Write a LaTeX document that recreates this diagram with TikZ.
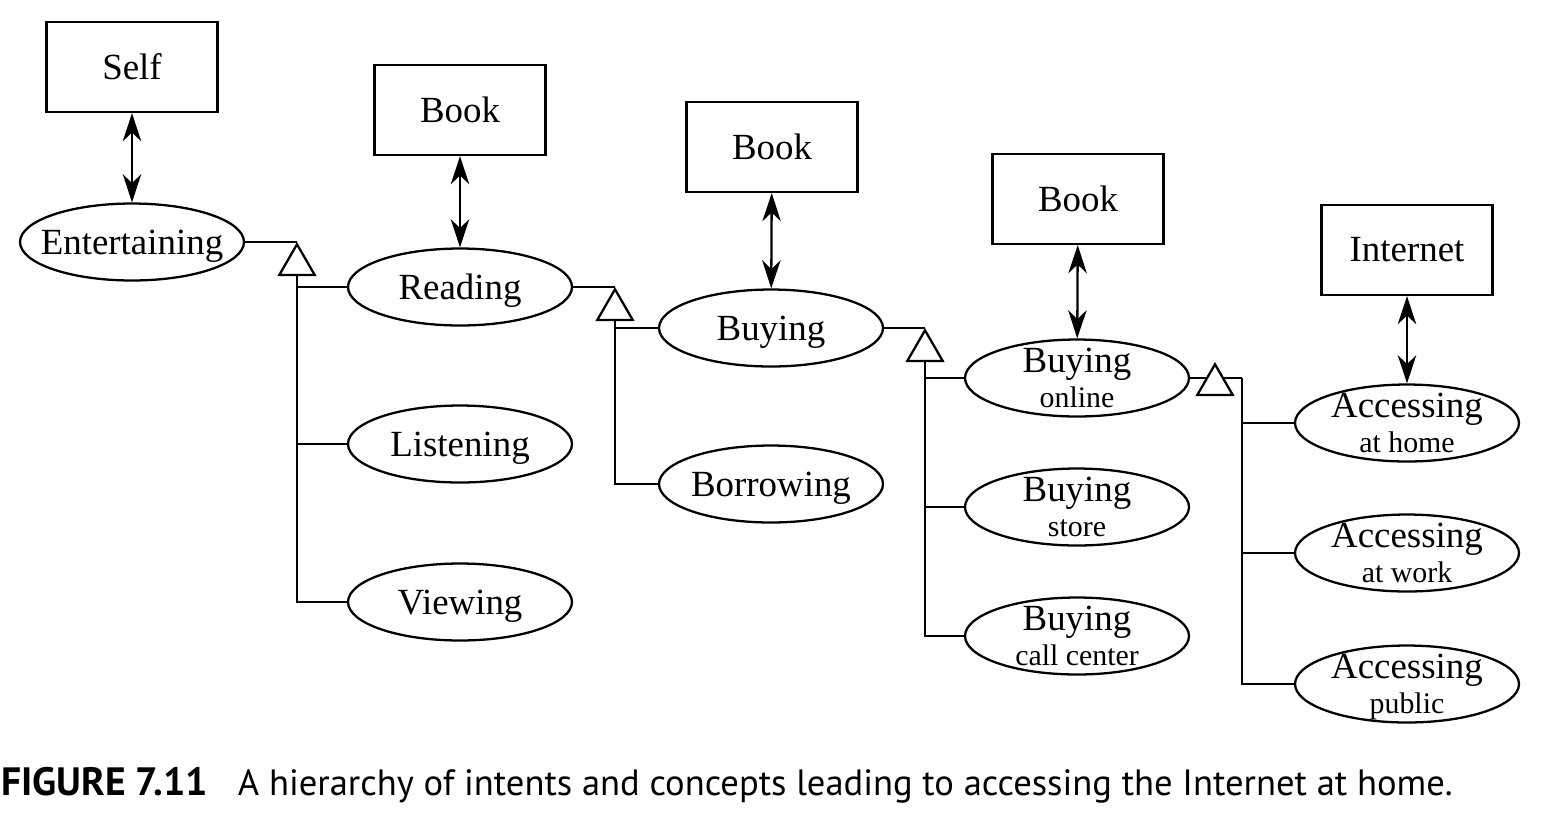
\documentclass[tikz,border=0pt]{standalone}
\usepackage{fontspec}
\setmainfont{Liberation Serif}
\newfontfamily\capfont{PT Sans}
\usetikzlibrary{arrows.meta,shapes.geometric}
\newcommand{\lowtxt}[1]{{\fontsize{17}{20}\selectfont #1}}
\tikzset{
  intent/.style={ellipse, draw, fill=white, minimum width=4.48cm, minimum height=1.54cm, inner xsep=-3mm, inner ysep=-2mm, text depth=0pt, align=center, font=\fontsize{21}{20}\selectfont},
  concept/.style={draw, fill=white, minimum width=3.42cm, minimum height=1.8cm, font=\fontsize{21}{24}\selectfont},
  spec/.style={regular polygon, regular polygon sides=3, draw, fill=white, minimum size=0.82cm, inner sep=0pt},
  link/.style={{Stealth[length=16pt,width=10.5pt,inset=5pt]}-{Stealth[length=16pt,width=10.5pt,inset=5pt]}}
}
\begin{document}
\begin{tikzpicture}[x=0.02cm, y=-0.02cm, line width=1.3pt]
  \useasboundingbox (0,0) rectangle (1541,823);
  % concepts
  \node[concept] (self) at (132,67) {Self};
  \node[concept] (book1) at (460,110) {Book};
  \node[concept] (book2) at (772,147) {Book};
  \node[concept] (book3) at (1078,199) {Book};
  \node[concept] (net) at (1407,250) {Internet};
  % intents
  \node[intent] (ent) at (132,242) {Entertaining};
  \node[intent] (read) at (460,287) {Reading};
  \node[intent] (listen) at (460,444) {Listening};
  \node[intent] (view) at (460,602) {Viewing};
  \node[intent] (buy) at (771,328) {Buying};
  \node[intent] (borrow) at (771,484) {Borrowing};
  \node[intent] (online) at (1077,378) {Buying\\\lowtxt{online}};
  \node[intent] (store) at (1077,507) {Buying\\\lowtxt{store}};
  \node[intent] (call) at (1077,636) {Buying\\\lowtxt{call center}};
  \node[intent] (home) at (1407,423) {Accessing\\\lowtxt{at home}};
  \node[intent] (work) at (1407,553) {Accessing\\\lowtxt{at work}};
  \node[intent] (public) at (1407,684) {Accessing\\\lowtxt{public}};
  % specialisation
  \node[spec, anchor=corner 1] (t1) at (297,242) {};
  \node[spec, anchor=corner 1] (t2) at (615,287) {};
  \node[spec, anchor=corner 1] (t3) at (925,328) {};
  \draw (ent.east) -- (t1.corner 1);
  \draw (t1.side 2) |- (read);
  \draw (t1.side 2) |- (listen);
  \draw (t1.side 2) |- (view);
  \draw (read.east) -- (t2.corner 1);
  \draw (t2.side 2) |- (buy);
  \draw (t2.side 2) |- (borrow);
  \draw (buy.east) -- (t3.corner 1);
  \draw (t3.side 2) |- (online);
  \draw (t3.side 2) |- (store);
  \draw (t3.side 2) |- (call);
  \coordinate (j4) at (1242,378);
  \draw (online.east) -- (j4);
  \node[spec, anchor=corner 1] (t4) at (1215,362) {};
  \draw (j4) |- (home);
  \draw (j4) |- (work);
  \draw (j4) |- (public);
  % concept links
  \draw[link] (self) -- (ent);
  \draw[link] (book1) -- (read);
  \draw[link] (book2) -- (buy);
  \draw[link] (book3) -- (online);
  \draw[link] (net) -- (home);
  % caption
  \node[anchor=base west, inner sep=0pt, font=\capfont\fontsize{20.8}{24}\selectfont] (cap) at (0,795)
    {{\fontsize{22.5}{24}\selectfont\bfseries FIGURE 7.11}\hspace{17pt}A hierarchy of intents and concepts leading to accessing the Internet at home.};
\end{tikzpicture}
\end{document}
